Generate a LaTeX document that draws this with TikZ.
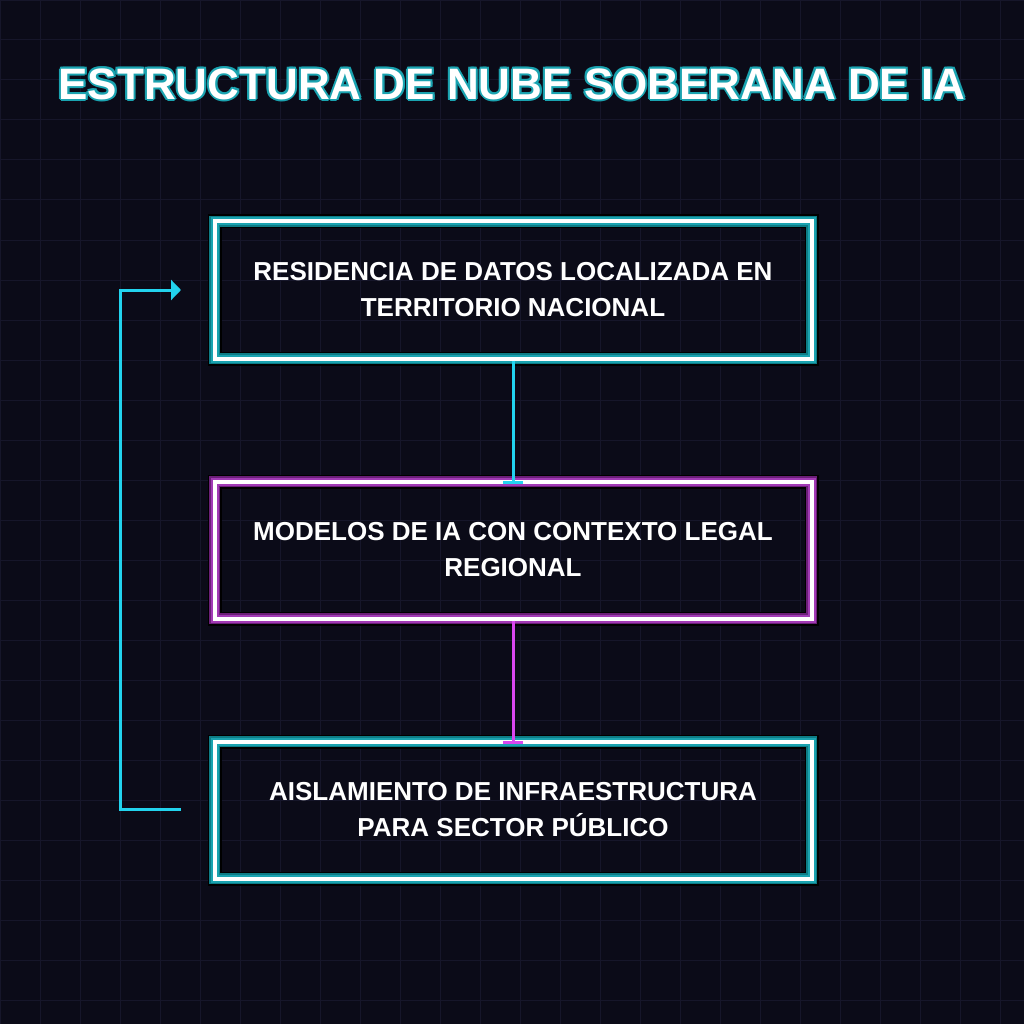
\documentclass[tikz,border=0pt]{standalone}
\usepackage{fontspec}
\setmainfont{Liberation Sans}
\usetikzlibrary{arrows.meta}
\definecolor{bg}{HTML}{0B0B18}
\definecolor{gridc}{HTML}{16162A}
\definecolor{cy}{HTML}{22D3EE}
\definecolor{tealA}{HTML}{0E7C86}
\definecolor{tealB}{HTML}{1AA3B0}
\definecolor{mag}{HTML}{D946EF}
\definecolor{magA}{HTML}{6B1F78}
\definecolor{magB}{HTML}{A23AB5}
\tikzset{
  boxt/.style={draw=white,line width=4pt,minimum width=597pt,minimum height=137pt,align=center,text=white,font=\bfseries\fontsize{26}{36}\selectfont,
    preaction={draw=black,line width=14pt},preaction={draw=tealA,line width=11pt},preaction={draw=tealB,line width=8pt}},
  boxm/.style={boxt,preaction={draw=black,line width=14pt},preaction={draw=magA,line width=11pt},preaction={draw=magB,line width=8pt}},
  conn/.style={line width=3pt},
  ttl/.style={font=\bfseries\fontsize{44}{44}\selectfont}
}
\begin{document}
\begin{tikzpicture}[x=1pt,y=-1pt]
\fill[bg] (0,0) rectangle (1024,1024);
\useasboundingbox (0,0) rectangle (1024,1024);
\draw[gridc,line width=1pt] (0,0) grid[step=40pt] (1024,1024);
\foreach \dx/\dy in {-2/0,2/0,0/-2,0/2,-1.5/-1.5,1.5/1.5,-1.5/1.5,1.5/-1.5}
  \node[ttl,text=tealB] at (512+\dx,84+\dy) {ESTRUCTURA DE NUBE SOBERANA DE IA};
\node[ttl,text=white] (title) at (512,84) {ESTRUCTURA DE NUBE SOBERANA DE IA};
\node[boxt] (b1) at (513,290) {RESIDENCIA DE DATOS LOCALIZADA EN\\TERRITORIO NACIONAL};
\node[boxm] (b2) at (513,550) {MODELOS DE IA CON CONTEXTO LEGAL\\REGIONAL};
\node[boxt] (b3) at (513,810) {AISLAMIENTO DE INFRAESTRUCTURA\\PARA SECTOR PÚBLICO};
\draw[conn,cy,-{Bar[width=20pt]}] (b1.south) -- ([yshift=-4pt]b2.north);
\draw[conn,mag,-{Bar[width=20pt]}] (b2.south) -- ([yshift=-4pt]b3.north);
\coordinate (s) at (181,809);
\coordinate (e) at (181,290);
\draw[conn,cy,-{Triangle[width=20pt,length=10pt]}] (s) -- (120,809) -- (120,290) -- (e);
\end{tikzpicture}
\end{document}
